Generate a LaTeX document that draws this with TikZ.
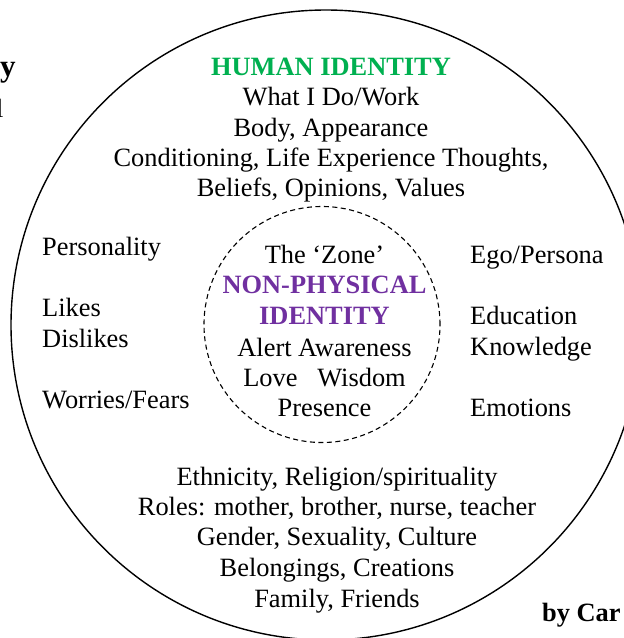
\documentclass[tikz,border=0pt]{standalone}
\usepackage{fontspec}
\setmainfont{Liberation Serif}
\definecolor{idgreen}{RGB}{0,176,80}
\definecolor{idpurple}{RGB}{112,48,160}
\newcommand{\bodysize}{\fontsize{26.4}{30.5}\selectfont}
\newcommand{\titlesize}{\fontsize{31}{36}\selectfont}
\begin{document}
\begin{tikzpicture}[x=1pt,y=-1pt,
  lbl/.style={anchor=base,inner sep=0pt,font=\bodysize},
  lblw/.style={lbl,anchor=base west},
  head/.style={lbl,font=\bodysize\bfseries},
  ring/.style={circle,draw,inner sep=0pt,line width=1.4pt},
  zonering/.style={circle,draw,inner sep=0pt,line width=1.1pt,dash pattern=on 5pt off 3.5pt}]
\useasboundingbox (0,0) rectangle (624,638);
\clip (0,0) rectangle (624,638);

% outer ring: human identity
\node[ring,minimum size=630pt] (outer) at (326,325) {};
% inner dashed ring: the zone
\node[zonering,minimum size=236pt] (zone) at (322,324.5) {};

% top block
\node[head,text=idgreen] (human) at (331,75) {HUMAN IDENTITY};
\node[lbl] (work)    at (331,105) {What I Do/Work};
\node[lbl] (body)    at (331,136) {Body, Appearance};
\node[lbl] (cond)    at (331,166) {Conditioning, Life Experience Thoughts,};
\node[lbl] (beliefs) at (331,196) {Beliefs, Opinions, Values};

% left column
\node[lblw] (pers)    at (42,255) {Personality};
\node[lblw] (likes)   at (42,316) {Likes};
\node[lblw] (dislikes) at (42,347) {Dislikes};
\node[lblw] (worries) at (42,408) {Worries/Fears};

% right column
\node[lblw] (ego)     at (470,263) {Ego/Persona};
\node[lblw] (edu)     at (470,324) {Education};
\node[lblw] (know)    at (470,355) {Knowledge};
\node[lblw] (emo)     at (470,416) {Emotions};

% inner block
\node[lbl] (zonename) at (324.5,263) {The ‘Zone’};
\node[head,text=idpurple] (nonphys) at (324.5,293) {NON-PHYSICAL};
\node[head,text=idpurple] (identity) at (324.5,324) {IDENTITY};
\node[lbl] (alert)    at (324.5,356) {Alert Awareness};
\node[lbl] (love)     at (324.5,386) {Love\hspace{0.75em}Wisdom};
\node[lbl] (presence) at (324.5,416) {Presence};

% bottom block
\node[lbl] (ethnic)  at (337,485) {Ethnicity, Religion/spirituality};
\node[lbl] (roles)   at (337,515) {Roles: mother, brother, nurse, teacher};
\node[lbl] (gender)  at (337,545) {Gender, Sexuality, Culture};
\node[lbl] (belong)  at (337,576) {Belongings, Creations};
\node[lbl] (family)  at (337,607) {Family, Friends};

% edge fragments
\node[lbl,anchor=base west,font=\titlesize\bfseries] (titletail) at (0,76) {y};
\node[lbl,anchor=base west] (sidetail) at (-4,117) {l};
\node[head,anchor=base west] (credit) at (542,621) {by Car};
\end{tikzpicture}
\end{document}
